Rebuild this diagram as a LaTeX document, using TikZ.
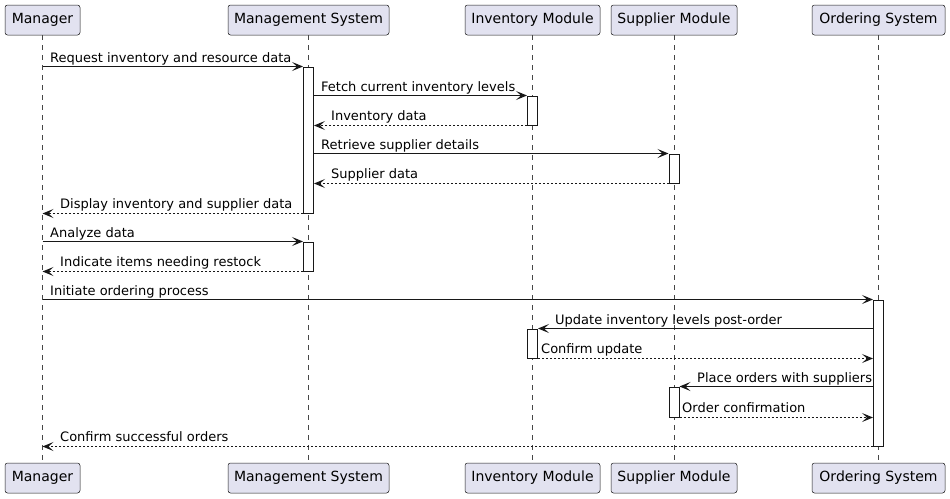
\documentclass[tikz,border=0pt]{standalone}
\usepackage{fontspec}
\setmainfont{DejaVu Sans}
\usetikzlibrary{arrows.meta}
\definecolor{pfill}{HTML}{E2E2F0}
\definecolor{ink}{HTML}{181818}
\tikzset{
 part/.style={draw=ink, fill=pfill, rounded corners=2.5pt, line width=0.5pt, font=\fontsize{14}{16}\selectfont, minimum height=30pt, inner sep=0pt},
 life/.style={draw=ink!80, line width=0.5pt, dash pattern=on 5pt off 5pt},
 act/.style={draw=ink, fill=white, line width=1pt, minimum width=10pt, inner sep=0pt},
 msg/.style={draw=ink, line width=1pt, -{Stealth[length=11pt,width=9pt,inset=5pt]}},
 ret/.style={msg, dash pattern=on 2pt off 2pt},
 lbl/.style={font=\fontsize{13}{15}\selectfont, anchor=base west, inner sep=0pt, text=black},
}
\begin{document}
\begin{tikzpicture}[x=1pt, y=-1pt]
\useasboundingbox (0,0) rectangle (950,498);
% participants
\node[part, minimum width=75pt]  (mgrT) at (42.5,20) {Manager};
\node[part, minimum width=161pt] (msT)  at (308.5,20) {Management System};
\node[part, minimum width=135pt] (invT) at (532.5,20) {Inventory Module};
\node[part, minimum width=126pt] (supT) at (674,20) {Supplier Module};
\node[part, minimum width=133pt] (ordT) at (878.5,20) {Ordering System};
\node[part, minimum width=75pt]  (mgrB) at (42.5,478) {Manager};
\node[part, minimum width=161pt] (msB)  at (308.5,478) {Management System};
\node[part, minimum width=135pt] (invB) at (532.5,478) {Inventory Module};
\node[part, minimum width=126pt] (supB) at (674,478) {Supplier Module};
\node[part, minimum width=133pt] (ordB) at (878.5,478) {Ordering System};
% lifelines
\foreach \p in {mgr,ms,inv,sup,ord}{\draw[life] (\p T.south) -- (\p B.north);}
% activations
\node[act, minimum height=146pt] (a1) at (308.5,140) {};
\node[act, minimum height=29pt]  (a2) at (532.5,110.5) {};
\node[act, minimum height=29pt]  (a3) at (674,168.5) {};
\node[act, minimum height=29pt]  (a4) at (308.5,256.5) {};
\node[act, minimum height=146pt] (a5) at (878.5,373) {};
\node[act, minimum height=29pt]  (a6) at (532.5,343.5) {};
\node[act, minimum height=30pt]  (a7) at (674,402) {};
% messages
\draw[msg] (mgrT |- a1.north) -- (a1.north west);
\node[lbl] (t1) at (50,62.5) {Request inventory and resource data};
\draw[msg] (a1.east |- a2.north) -- (a2.north west);
\node[lbl] (t2) at (321,91.5) {Fetch current inventory levels};
\draw[ret] (a2.south west) -- (a1.east |- a2.south);
\node[lbl] (t3) at (331,120.5) {Inventory data};
\draw[msg] (a1.east |- a3.north) -- (a3.north west);
\node[lbl] (t4) at (321,149.5) {Retrieve supplier details};
\draw[ret] (a3.south west) -- (a1.east |- a3.south);
\node[lbl] (t5) at (331,178.5) {Supplier data};
\draw[ret] (a1.south west) -- (mgrT |- a1.south);
\node[lbl] (t6) at (60,208.5) {Display inventory and supplier data};
\draw[msg] (mgrT |- a4.north) -- (a4.north west);
\node[lbl] (t7) at (50,237.5) {Analyze data};
\draw[ret] (a4.south west) -- (mgrT |- a4.south);
\node[lbl] (t8) at (60,266.5) {Indicate items needing restock};
\draw[msg] (mgrT |- a5.north) -- (a5.north west);
\node[lbl] (t9) at (50,295.5) {Initiate ordering process};
\draw[msg] (a5.west |- a6.north) -- (a6.north east);
\node[lbl] (t10) at (555,324.5) {Update inventory levels post-order};
\draw[ret] (a6.south east) -- (a5.west |- a6.south);
\node[lbl] (t11) at (541,353.5) {Confirm update};
\draw[msg] (a5.west |- a7.north) -- (a7.north east);
\node[lbl] (t12) at (697,382.5) {Place orders with suppliers};
\draw[ret] (a7.south east) -- (a5.west |- a7.south);
\node[lbl] (t13) at (682,412) {Order confirmation};
\draw[ret] (a5.south west) -- (mgrT |- a5.south);
\node[lbl] (t14) at (60,441.5) {Confirm successful orders};
\end{tikzpicture}
\end{document}
